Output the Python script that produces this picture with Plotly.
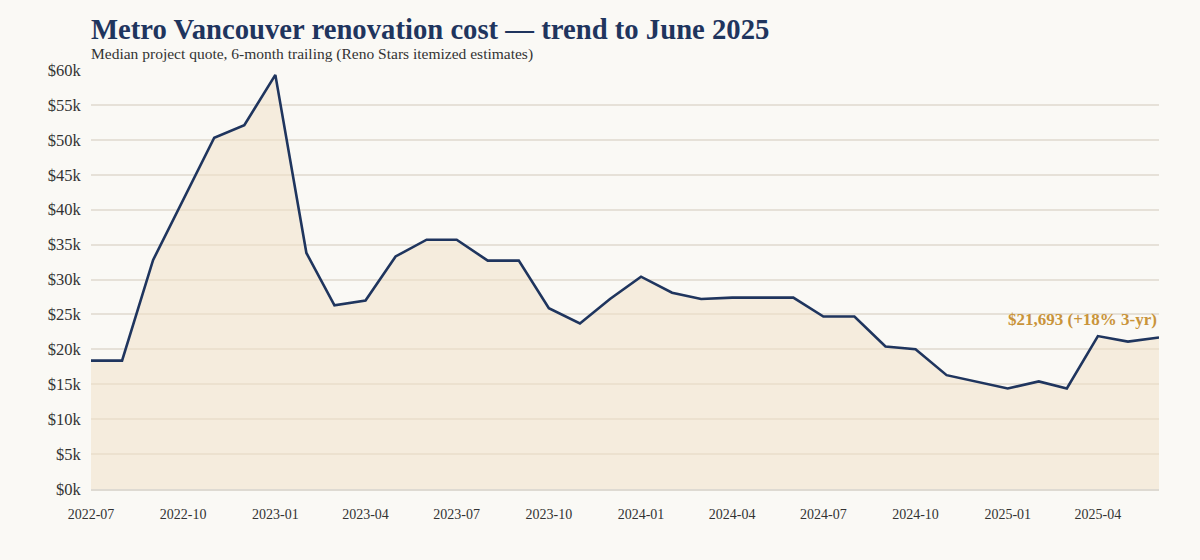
import plotly.graph_objects as go

months = ["2022-07", "2022-08", "2022-09", "2022-10", "2022-11", "2022-12",
          "2023-01", "2023-02", "2023-03", "2023-04", "2023-05", "2023-06",
          "2023-07", "2023-08", "2023-09", "2023-10", "2023-11", "2023-12",
          "2024-01", "2024-02", "2024-03", "2024-04", "2024-05", "2024-06",
          "2024-07", "2024-08", "2024-09", "2024-10", "2024-11", "2024-12",
          "2025-01", "2025-02", "2025-03", "2025-04", "2025-05", "2025-06"]
median_quote = [18384, 18384, 32800, 41500, 50300, 52100,
                59300, 33800, 26300, 27000, 33300, 35700,
                35700, 32700, 32700, 25900, 23700, 27200,
                30400, 28100, 27200, 27400, 27400, 27400,
                24700, 24700, 20400, 20000, 16300, 15400,
                14400, 15400, 14400, 21900, 21100, 21693]
y_ticks = [0, 5000, 10000, 15000, 20000, 25000, 30000, 35000, 40000, 45000, 50000, 55000, 60000]
y_tick_labels = ["$0k", "$5k", "$10k", "$15k", "$20k", "$25k", "$30k", "$35k", "$40k", "$45k", "$50k", "$55k", "$60k"]
x_ticks = ["2022-07", "2022-10", "2023-01", "2023-04", "2023-07", "2023-10",
           "2024-01", "2024-04", "2024-07", "2024-10", "2025-01", "2025-04"]

dates = [m + "-01" for m in months]
tick_dates = [m + "-01" for m in x_ticks]

FONT = "Georgia, 'Liberation Serif', 'DejaVu Serif', serif"
NAVY = "#1f355e"
GOLD = "#c9943a"
BG = "#faf9f5"

pct = round((median_quote[-1] / median_quote[0] - 1) * 100)
label = f"${median_quote[-1]:,} (+{pct}% 3-yr)"

fig = go.Figure()
fig.add_trace(go.Scatter(
    x=dates, y=median_quote, mode="lines",
    line=dict(color=NAVY, width=2.6),
    fill="tozeroy", fillcolor="rgba(240,226,200,0.55)",
    hoverinfo="x+y", showlegend=False,
))
fig.add_annotation(
    x=dates[-1], y=median_quote[-1], xref="x", yref="y",
    text=f"<b>{label}</b>", showarrow=False,
    xanchor="right", yanchor="bottom", yshift=7,
    font=dict(family=FONT, size=17, color=GOLD),
)
fig.add_annotation(
    x=0, y=1.098, xref="paper", yref="paper",
    text="<b>Metro Vancouver renovation cost — trend to June 2025</b>",
    showarrow=False, xanchor="left", yanchor="middle", xshift=-2,
    font=dict(family=FONT, size=28.7, color=NAVY),
)
fig.add_annotation(
    x=0, y=1.038, xref="paper", yref="paper",
    text="Median project quote, 6-month trailing (Reno Stars itemized estimates)",
    showarrow=False, xanchor="left", yanchor="middle", xshift=-2,
    font=dict(family=FONT, size=15.5, color="#333333"),
)

fig.update_layout(
    width=1200, height=560,
    margin=dict(l=91, r=41, t=70, b=71),
    paper_bgcolor=BG, plot_bgcolor=BG,
    font=dict(family=FONT, size=13, color="#333333"),
    xaxis=dict(
        type="date", range=[dates[0], dates[-1]],
        tickvals=tick_dates, ticktext=x_ticks,
        showgrid=False, zeroline=False,
        showline=True, linecolor="#dedad2", linewidth=2,
        ticks="outside", ticklen=11, tickcolor="rgba(0,0,0,0)",
        tickfont=dict(family=FONT, size=14, color="#333333"),
    ),
    yaxis=dict(
        range=[0, 60000], tickvals=y_ticks, ticktext=y_tick_labels,
        showgrid=True, gridcolor="#e6e1d8", gridwidth=1.5,
        zeroline=False, showline=False,
        ticks="outside", ticklen=6, tickcolor="rgba(0,0,0,0)",
        tickfont=dict(family=FONT, size=16.5, color="#333333"),
    ),
)

fig.write_html("out.html")
